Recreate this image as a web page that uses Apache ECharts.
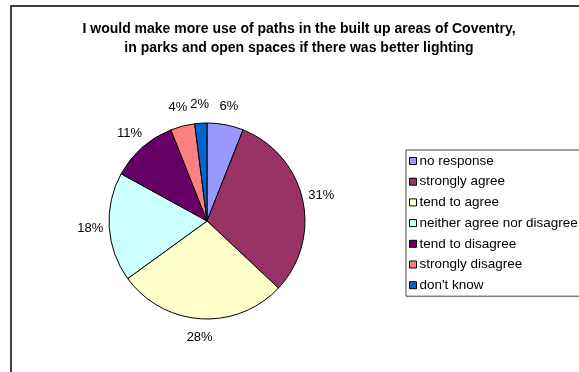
<!DOCTYPE html>
<html>
<head>
<meta charset="utf-8">
<style>
  html, body { margin: 0; padding: 0; background: #fff; }
  #chart { width: 579px; height: 372px; }
</style>
<script src="https://cdn.jsdelivr.net/npm/echarts@6/dist/echarts.min.js"></script>
</head>
<body>
<div id="chart"></div>
<script>
// Survey responses (percent of respondents)
const categories = [
  'no response',
  'strongly agree',
  'tend to agree',
  'neither agree nor disagree',
  'tend to disagree',
  'strongly disagree',
  "don't know"
];
const shares = [6, 31, 28, 18, 11, 4, 2];
const sliceColors = ['#9999FF', '#993366', '#FFFFCC', '#CCFFFF', '#660066', '#FF8080', '#0066CC'];
const titleLines = [
  'I would make more use of paths in the built up areas of Coventry,',
  'in parks and open spaces if there was better lighting'
];

const FONT = '"Liberation Sans", Arial, Helvetica, sans-serif';
const center = [207, 221];

const slices = categories.map((name, i) => ({
  name: name,
  value: shares[i],
  itemStyle: { color: sliceColors[i] }
}));

const chart = echarts.init(document.getElementById('chart'), null, { renderer: 'canvas' });

chart.setOption({
  animation: false,
  backgroundColor: '#ffffff',
  color: sliceColors,
  title: {
    text: titleLines.join('\n'),
    left: 294,
    top: 15,
    textAlign: 'center',
    textStyle: {
      fontFamily: FONT,
      fontSize: 14,
      fontWeight: 'bold',
      color: '#000',
      lineHeight: 19
    }
  },
  legend: {
    orient: 'vertical',
    left: 406,
    top: 150,
    padding: [4, 8, 4, 3],
    itemWidth: 7,
    itemHeight: 7,
    itemGap: 6.7,
    icon: 'rect',
    backgroundColor: '#fff',
    borderColor: '#444',
    borderWidth: 1,
    borderRadius: 0,
    selectedMode: false,
    itemStyle: { borderColor: '#000', borderWidth: 1 },
    textStyle: { fontFamily: FONT, fontSize: 13.5, lineHeight: 14, color: '#000', padding: [0, 0, 0, -2] },
    data: categories
  },
  graphic: [{
    type: 'rect',
    shape: { x: 11, y: 6, width: 700, height: 500 },
    style: { fill: 'none', stroke: '#000', lineWidth: 1.5 },
    silent: true,
    z: -1
  }],
  series: [
    {
      // slices
      type: 'pie',
      center: center,
      radius: [0, 98],
      startAngle: 90,
      clockwise: true,
      silent: true,
      percentPrecision: 0,
      itemStyle: { borderColor: '#000', borderWidth: 1 },
      label: { show: false },
      labelLine: { show: false },
      emphasis: { disabled: true },
      data: slices
    },
    {
      // transparent ring that carries the percentage labels just outside the pie
      type: 'pie',
      center: center,
      radius: [98, 130],
      startAngle: 90,
      clockwise: true,
      silent: true,
      percentPrecision: 0,
      legendHoverLink: false,
      itemStyle: { color: 'transparent', borderWidth: 0 },
      label: {
        show: true,
        position: 'inside',
        formatter: '{d}%',
        fontFamily: FONT,
        fontSize: 13,
        color: '#000'
      },
      labelLine: { show: false },
      emphasis: { disabled: true },
      data: categories.map((name, i) => ({ name: name, value: shares[i] }))
    }
  ]
});
</script>
</body>
</html>
